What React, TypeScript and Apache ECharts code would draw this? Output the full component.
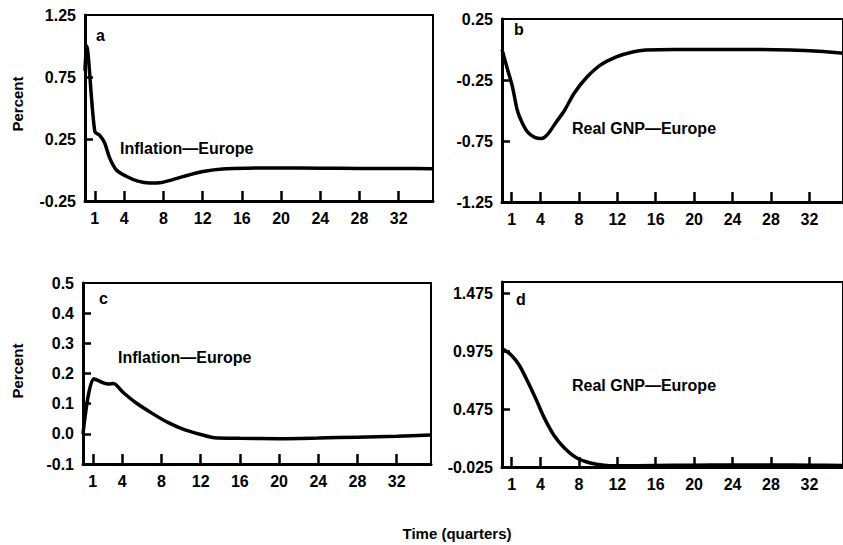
import React, { useEffect, useRef } from "react";
import * as echarts from "echarts";

// ---- data ----
const xTickValues = [1, 4, 8, 12, 16, 20, 24, 28, 32];

const aX = [0, 0.15, 1, 1.5, 2, 2.5, 3.2, 4.2, 5.4, 6.6, 7.8, 9.3, 10.6, 12.2, 14, 16.5, 20, 24, 28, 32, 35.5];
const aY = [0.8, 1.0, 0.31, 0.28, 0.22, 0.1, 0.0, -0.05, -0.09, -0.105, -0.1, -0.07, -0.04, -0.01, 0.008, 0.015, 0.016, 0.015, 0.013, 0.012, 0.01];

const bX = [0, 0.6, 1.1, 1.6, 2.1, 2.7, 3.4, 4.1, 4.7, 5.6, 6.5, 7.5, 8.8, 10.2, 11.9, 13.6, 15, 18, 22, 26, 30, 33, 35.5];
const bY = [0.0, -0.17, -0.31, -0.5, -0.6, -0.68, -0.72, -0.73, -0.7, -0.6, -0.5, -0.36, -0.23, -0.13, -0.06, -0.02, -0.005, 0.0, 0.0, 0.0, -0.005, -0.015, -0.03];

const cX = [0, 1.1, 2, 2.6, 3.1, 4.1, 5.4, 7.1, 8.7, 10.4, 12.1, 13.4, 16, 20, 24, 28, 32, 35.5];
const cY = [0.0, 0.183, 0.17, 0.165, 0.167, 0.137, 0.103, 0.067, 0.037, 0.013, -0.003, -0.013, -0.015, -0.016, -0.014, -0.011, -0.008, -0.004];

const dX = [0, 1, 1.8, 2.7, 3.6, 4.4, 5.4, 6.5, 7.8, 9.2, 10.6, 12, 16, 20, 24, 28, 32, 35.5];
const dY = [1.0, 0.94, 0.855, 0.71, 0.55, 0.4, 0.25, 0.14, 0.053, 0.01, -0.01, -0.015, -0.012, -0.01, -0.008, -0.008, -0.01, -0.012];

const aYLabels = [-0.25, 0.25, 0.75, 1.25];
const aYTicks = [0.25, 0.75];
const bYLabels = [-1.25, -0.75, -0.25, 0.25];
const bYTicks = [-0.75, -0.25];
const cYLabels = [-0.1, 0.0, 0.1, 0.2, 0.3, 0.4, 0.5];
const cYTicks = [0.0, 0.1, 0.2, 0.3, 0.4];
const dYLabels = [-0.025, 0.475, 0.975, 1.475];
const dYTicks = [0.475, 0.975, 1.475];

const FONT = "'Liberation Sans', Arial, Helvetica, sans-serif";

const panels = [
  { letter: "a", name: "Inflation\u2014Europe", xs: aX, ys: aY, min: -0.25, max: 1.25, labels: aYLabels, ticks: aYTicks, dec: 2,
    grid: { left: 85, top: 15, width: 348, height: 186 }, letterPos: [96, 27], namePos: [120, 148] },
  { letter: "b", name: "Real GNP\u2014Europe", xs: bX, ys: bY, min: -1.25, max: 0.25, labels: bYLabels, ticks: bYTicks, dec: 2,
    grid: { left: 502, top: 19, width: 348, height: 183 }, letterPos: [514, 21], namePos: [572, 128] },
  { letter: "c", name: "Inflation\u2014Europe", xs: cX, ys: cY, min: -0.1, max: 0.5, labels: cYLabels, ticks: cYTicks, dec: 1,
    grid: { left: 83, top: 283, width: 348, height: 181 }, letterPos: [99, 290], namePos: [118, 357] },
  { letter: "d", name: "Real GNP\u2014Europe", xs: dX, ys: dY, min: -0.025, max: 1.575, labels: dYLabels, ticks: dYTicks, dec: 3,
    grid: { left: 502, top: 282, width: 348, height: 185 }, letterPos: [516, 291], namePos: [572, 385] },
];

export default function App() {
  const ref = useRef<HTMLDivElement>(null);
  useEffect(() => {
    if (!ref.current) return;
    const chart = echarts.init(ref.current, undefined, { renderer: "svg" });
    const grids = panels.map((p) => ({
      ...p.grid,
      show: true,
      borderColor: "#000",
      borderWidth: 2,
      backgroundColor: "transparent",
    }));
    const xAxes = panels.map((p, i) => ({
      type: "value",
      gridIndex: i,
      min: 0,
      max: 35.5,
      axisLine: { show: true, onZero: false, lineStyle: { color: "#000", width: 3 } },
      axisTick: { show: true, inside: true, length: 10, customValues: xTickValues, lineStyle: { color: "#000", width: 2.5 } },
      axisLabel: {
        show: true,
        customValues: xTickValues,
        color: "#000",
        fontFamily: FONT,
        fontWeight: "bold",
        fontSize: 16,
        margin: 9,
      },
      splitLine: { show: false },
    }));
    const yAxes = panels.map((p, i) => ({
      type: "value",
      gridIndex: i,
      min: p.min,
      max: p.max,
      axisLine: { show: true, onZero: false, lineStyle: { color: "#000", width: 3 } },
      axisTick: { show: true, inside: true, length: 8, customValues: p.ticks, lineStyle: { color: "#000", width: 2.5 } },
      axisLabel: {
        show: true,
        customValues: p.labels,
        color: "#000",
        fontFamily: FONT,
        fontWeight: "bold",
        fontSize: 16,
        margin: 9,
        formatter: (v: number) => v.toFixed(p.dec),
      },
      splitLine: { show: false },
    }));
    const lineSeries = panels.map((p, i) => ({
      type: "line",
      xAxisIndex: i,
      yAxisIndex: i,
      data: p.xs.map((x, k) => [x, p.ys[k]]),
      showSymbol: false,
      smooth: 0.3,
      lineStyle: { color: "#000", width: 3.5 },
      clip: true,
      z: 3,
    }));
    const textStyle = (text: string, size: number) => ({
      text,
      fill: "#000",
      font: `bold ${size}px ${FONT}`,
    });
    const graphics: any[] = [];
    panels.forEach((p) => {
      graphics.push({ type: "text", x: p.letterPos[0], y: p.letterPos[1], style: { ...textStyle(p.letter, 16) } });
      graphics.push({ type: "text", x: p.namePos[0], y: p.namePos[1], style: { ...textStyle(p.name, 16), verticalAlign: "middle" } });
    });
    graphics.push({ type: "text", x: 17, y: 104, rotation: Math.PI / 2, style: { ...textStyle("Percent", 15), align: "center", verticalAlign: "middle" } });
    graphics.push({ type: "text", x: 17, y: 371, rotation: Math.PI / 2, style: { ...textStyle("Percent", 15), align: "center", verticalAlign: "middle" } });
    graphics.push({ type: "text", x: 457, y: 533, style: { ...textStyle("Time (quarters)", 15), align: "center", verticalAlign: "middle" } });
    chart.setOption({
      animation: false,
      backgroundColor: "#fff",
      grid: grids,
      xAxis: xAxes,
      yAxis: yAxes,
      series: lineSeries,
      graphic: graphics,
    });
    return () => chart.dispose();
  }, []);
  return (
    <div ref={ref} style={{ position: "fixed", left: 0, top: 0, width: 843, height: 545, background: "#fff" }} />
  );
}
